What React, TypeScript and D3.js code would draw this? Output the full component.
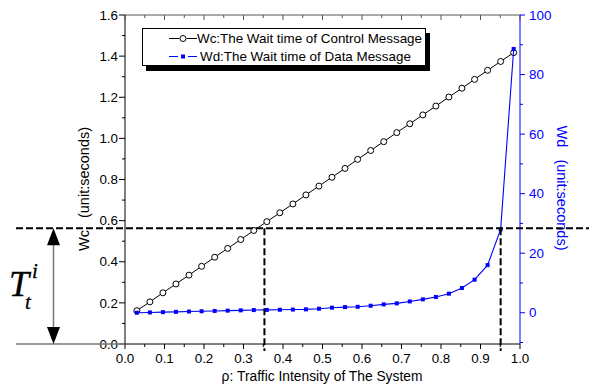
import React from "react";
import * as d3 from "d3";

const rho = [0.030,0.063,0.096,0.129,0.162,0.194,0.227,0.260,0.293,0.326,0.359,0.392,0.425,0.458,0.491,0.524,0.557,0.589,0.622,0.655,0.688,0.721,0.754,0.787,0.820,0.853,0.885,0.918,0.951,0.984];
const wc = [0.162,0.205,0.249,0.292,0.335,0.378,0.422,0.465,0.508,0.552,0.595,0.638,0.681,0.725,0.768,0.811,0.854,0.898,0.941,0.984,1.028,1.071,1.114,1.157,1.201,1.244,1.287,1.331,1.374,1.417];
const wd = [0,0.1,0.2,0.3,0.4,0.5,0.6,0.7,0.8,0.9,0.95,1.0,1.07,1.14,1.35,1.7,1.9,2.0,2.35,2.8,3.15,3.8,4.5,5.3,6.4,8.3,11.1,16.0,28.0,88.6];

const xTicks = [0,0.1,0.2,0.3,0.4,0.5,0.6,0.7,0.8,0.9,1.0];
const xMinor = [0.05,0.15,0.25,0.35,0.45,0.55,0.65,0.75,0.85,0.95];
const leftTicks = [0,0.2,0.4,0.6,0.8,1.0,1.2,1.4,1.6];
const leftMinor = [0.1,0.3,0.5,0.7,0.9,1.1,1.3,1.5];
const rightTicks = [0,20,40,60,80,100];
const rightMinor = [-10,10,30,50,70,90];
const thresholdWc = 0.563;
const rhoMarks = [0.353, 0.951];
const legendLabels = ["Wc:The Wait time of Control Message", "Wd:The Wait time of Data Message"];

const FONT = "'Liberation Sans', Arial, sans-serif";
const SERIF = "'Liberation Serif', 'Times New Roman', serif";
const BLUE = "#0000ff";

export default function App() {
  const L = 125, R = 520, T = 15, B = 344;
  const x = d3.scaleLinear().domain([0, 1]).range([L, R]);
  const yL = d3.scaleLinear().domain([0, 1.6]).range([B, T]);
  const yR = d3.scaleLinear().domain([-10.5, 100]).range([B, T]);

  const wcLine = d3.line<number>().x((_, i) => x(rho[i])).y((d) => yL(d))(wc) || "";
  const wdLine = d3.line<number>().x((_, i) => x(rho[i])).y((d) => yR(d))(wd) || "";
  const hy = yL(thresholdWc);
  const TF = 13.4;

  return (
    <svg width={589} height={387} style={{ position: "absolute", left: 0, top: 0, background: "#fff" }} fontFamily={FONT}>
      <rect width={589} height={387} fill="#fff" />
      {/* axes frame */}
      <line x1={L} x2={R} y1={T} y2={T} stroke="#555" strokeWidth={1} />
      <line x1={L} x2={R} y1={B} y2={B} stroke="#000" strokeWidth={1} />
      <line x1={L} x2={L} y1={T} y2={B} stroke="#000" strokeWidth={1} />
      <line x1={R} x2={R} y1={T} y2={B} stroke={BLUE} strokeWidth={1} />

      {/* bottom & top ticks */}
      {xTicks.map((t) => (
        <g key={"xt" + t}>
          <line x1={x(t)} x2={x(t)} y1={B} y2={B + 5} stroke="#000" />
          <line x1={x(t)} x2={x(t)} y1={T} y2={T + 5} stroke="#555" />
          <text x={x(t)} y={B + 19} fontSize={TF} textAnchor="middle" fill="#000">{t.toFixed(1)}</text>
        </g>
      ))}
      {xMinor.map((t) => (
        <g key={"xm" + t}>
          <line x1={x(t)} x2={x(t)} y1={B} y2={B + 3} stroke="#000" />
          <line x1={x(t)} x2={x(t)} y1={T} y2={T + 3} stroke="#555" />
        </g>
      ))}

      {/* left ticks */}
      {leftTicks.map((t) => (
        <g key={"lt" + t}>
          <line x1={L - 6} x2={L} y1={yL(t)} y2={yL(t)} stroke="#000" />
          <text x={L - 7} y={yL(t) + 4.7} fontSize={TF} textAnchor="end" fill="#000">{t.toFixed(1)}</text>
        </g>
      ))}
      {leftMinor.map((t) => (
        <line key={"lm" + t} x1={L - 3} x2={L} y1={yL(t)} y2={yL(t)} stroke="#000" />
      ))}

      {/* right ticks */}
      {rightTicks.map((t) => (
        <g key={"rt" + t}>
          <line x1={R} x2={R + 5} y1={yR(t)} y2={yR(t)} stroke={BLUE} />
          <text x={R + 9} y={yR(t) + 4.7} fontSize={TF} textAnchor="start" fill={BLUE}>{t}</text>
        </g>
      ))}
      {rightMinor.map((t) => (
        <line key={"rm" + t} x1={R} x2={R + 3} y1={yR(t)} y2={yR(t)} stroke={BLUE} />
      ))}

      {/* axis titles */}
      <text transform={`translate(89,189) rotate(-90)`} fontSize={14.5} textAnchor="middle" fill="#000" xmlSpace="preserve">Wc   (unit:seconds)</text>
      <text transform={`translate(557,188) rotate(90)`} fontSize={14.5} textAnchor="middle" fill={BLUE} xmlSpace="preserve">Wd   (unit:seconds)</text>
      <text x={322} y={381} fontSize={13.8} textAnchor="middle" fill="#000">ρ: Traffic Intensity of The System</text>

      {/* data */}
      <path d={wcLine} fill="none" stroke="#000" strokeWidth={1} />
      {wc.map((d, i) => (
        <circle key={"c" + i} cx={x(rho[i])} cy={yL(d)} r={3} fill="#fff" stroke="#000" strokeWidth={1} />
      ))}
      <path d={wdLine} fill="none" stroke={BLUE} strokeWidth={1.1} />
      {wd.map((d, i) => (
        <rect key={"s" + i} x={x(rho[i]) - 2} y={yR(d) - 2} width={4} height={4} fill={BLUE} />
      ))}

      {/* threshold dashed lines */}
      <line x1={16} x2={589} y1={hy} y2={hy} stroke="#000" strokeWidth={2} strokeDasharray="7,3" />
      {rhoMarks.map((r) => (
        <line key={"v" + r} x1={x(r)} x2={x(r)} y1={hy} y2={351} stroke="#000" strokeWidth={2} strokeDasharray="7,3" />
      ))}

      {/* T annotation */}
      <line x1={16} x2={L} y1={B} y2={B} stroke="#777" strokeWidth={1.5} />
      <line x1={53.5} x2={53.5} y1={hy + 10} y2={B - 10} stroke="#777" strokeWidth={1.5} />
      <path d={`M53.5,${hy} L47,${hy + 17} L60,${hy + 17} Z`} fill="#000" />
      <path d={`M53.5,${B} L47,${B - 17} L60,${B - 17} Z`} fill="#000" />
      <text x={9} y={296} fontFamily={SERIF} fontStyle="italic" fontSize={36} fill="#000" stroke="#000" strokeWidth={0.4}>T</text>
      <text x={25} y={309} fontFamily={SERIF} fontStyle="italic" fontSize={21} fill="#000" stroke="#000" strokeWidth={0.3}>t</text>
      <text x={32} y={278} fontFamily={SERIF} fontStyle="italic" fontSize={21} fill="#000" stroke="#000" strokeWidth={0.3}>i</text>

      {/* legend */}
      <rect x={146} y={33} width={284} height={38} fill="#000" />
      <rect x={142.5} y={28.5} width={283} height={37} fill="#fff" stroke="#000" strokeWidth={1} />
      <line x1={169} x2={179.5} y1={38.5} y2={38.5} stroke="#000" />
      <line x1={186.5} x2={197} y1={38.5} y2={38.5} stroke="#000" />
      <circle cx={183} cy={38.5} r={3} fill="#fff" stroke="#000" />
      <text x={197} y={43} fontSize={TF} fill="#000">{legendLabels[0]}</text>
      <line x1={169} x2={178} y1={56.5} y2={56.5} stroke={BLUE} />
      <line x1={188} x2={197} y1={56.5} y2={56.5} stroke={BLUE} />
      <rect x={181} y={54.5} width={4} height={4} fill={BLUE} />
      <text x={200} y={61.3} fontSize={TF} fill="#000">{legendLabels[1]}</text>
    </svg>
  );
}
